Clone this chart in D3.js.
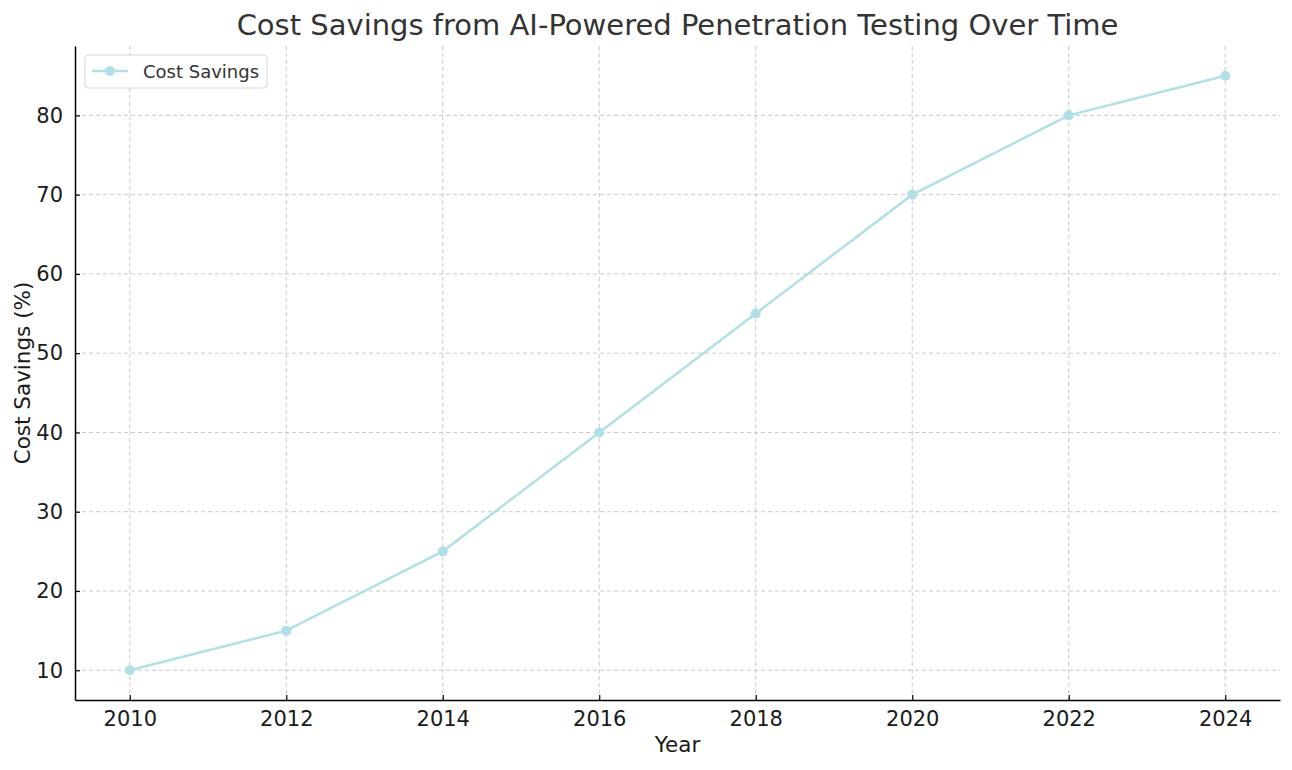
<!DOCTYPE html>
<html>
<head>
<meta charset="utf-8">
<script src="https://cdn.jsdelivr.net/npm/d3@7"></script>
<style>
  body { margin: 0; background: #fff; }
  svg { font-family: "DejaVu Sans", sans-serif; }
</style>
</head>
<body>
<div id="chart"></div>
<script>
// data
const years = [2010, 2012, 2014, 2016, 2018, 2020, 2022, 2024];
const savings = [10, 15, 25, 40, 55, 70, 80, 85];
const yTicks = [10, 20, 30, 40, 50, 60, 70, 80];
const seriesName = "Cost Savings";

const width = 1292;
const height = 770;
const margin = { top: 46, right: 12, bottom: 70, left: 75 };
const color = "#b0e0e6";

const svg = d3.select("#chart")
  .append("svg")
  .attr("width", width)
  .attr("height", height);

// matplotlib-style 5% padding on both axes
const xPad = (d3.max(years) - d3.min(years)) * 0.05;
const yPad = (d3.max(savings) - d3.min(savings)) * 0.05;

const x = d3.scaleLinear()
  .domain([d3.min(years) - xPad, d3.max(years) + xPad])
  .range([margin.left, width - margin.right]);

const y = d3.scaleLinear()
  .domain([d3.min(savings) - yPad, d3.max(savings) + yPad])
  .range([height - margin.bottom, margin.top]);

// grid
const grid = svg.append("g")
  .attr("stroke", "#c8c8c8")
  .attr("stroke-width", 1)
  .attr("stroke-dasharray", "4,3");

grid.selectAll(".gx")
  .data(years)
  .join("line")
  .attr("x1", d => x(d)).attr("x2", d => x(d))
  .attr("y1", margin.top).attr("y2", height - margin.bottom);

grid.selectAll(".gy")
  .data(yTicks)
  .join("line")
  .attr("x1", margin.left).attr("x2", width - margin.right)
  .attr("y1", d => y(d)).attr("y2", d => y(d));

// axes, ticks pointing inward
const xAxis = svg.append("g")
  .attr("transform", `translate(0,${height - margin.bottom})`)
  .call(d3.axisBottom(x).tickValues(years).tickFormat(d3.format("d")).tickSizeInner(-5).tickSizeOuter(0).tickPadding(11));

const yAxis = svg.append("g")
  .attr("transform", `translate(${margin.left},0)`)
  .call(d3.axisLeft(y).tickValues(yTicks).tickSizeInner(-5).tickSizeOuter(0).tickPadding(12));

[xAxis, yAxis].forEach(a => {
  a.select(".domain").attr("stroke", "#000").attr("stroke-width", 1.5);
  a.selectAll(".tick line").attr("stroke", "#000").attr("stroke-width", 1.2);
  a.selectAll(".tick text")
    .attr("fill", "#1a1a1a")
    .style("font-size", "21px")
    .style("font-family", "DejaVu Sans, sans-serif");
});

// line and markers
const line = d3.line()
  .x((d, i) => x(years[i]))
  .y(d => y(d));

svg.append("path")
  .datum(savings)
  .attr("fill", "none")
  .attr("stroke", color)
  .attr("stroke-width", 2.5)
  .attr("d", line);

svg.selectAll(".pt")
  .data(savings)
  .join("circle")
  .attr("cx", (d, i) => x(years[i]))
  .attr("cy", d => y(d))
  .attr("r", 5)
  .attr("fill", color);

// title and axis labels
svg.append("text")
  .attr("x", (margin.left + width - margin.right) / 2)
  .attr("y", 35)
  .attr("text-anchor", "middle")
  .attr("fill", "#333")
  .style("font-size", "29px")
  .text("Cost Savings from AI-Powered Penetration Testing Over Time");

svg.append("text")
  .attr("x", (margin.left + width - margin.right) / 2)
  .attr("y", 752)
  .attr("text-anchor", "middle")
  .attr("fill", "#1a1a1a")
  .style("font-size", "21.5px")
  .text("Year");

svg.append("text")
  .attr("transform", `translate(30,${(margin.top + height - margin.bottom) / 2}) rotate(-90)`)
  .attr("text-anchor", "middle")
  .attr("fill", "#1a1a1a")
  .style("font-size", "21.5px")
  .text("Cost Savings (%)");

// legend
const legend = svg.append("g").attr("transform", "translate(85,55)");
legend.append("rect")
  .attr("width", 182).attr("height", 33)
  .attr("rx", 3)
  .attr("fill", "#fff")
  .attr("stroke", "#d5d5d5");
legend.append("line")
  .attr("x1", 7).attr("x2", 43).attr("y1", 16).attr("y2", 16)
  .attr("stroke", color).attr("stroke-width", 2.5);
legend.append("circle")
  .attr("cx", 25).attr("cy", 16).attr("r", 5).attr("fill", color);
legend.append("text")
  .attr("x", 58).attr("y", 22.5)
  .attr("fill", "#333")
  .style("font-size", "18px")
  .text(seriesName);
</script>
</body>
</html>
